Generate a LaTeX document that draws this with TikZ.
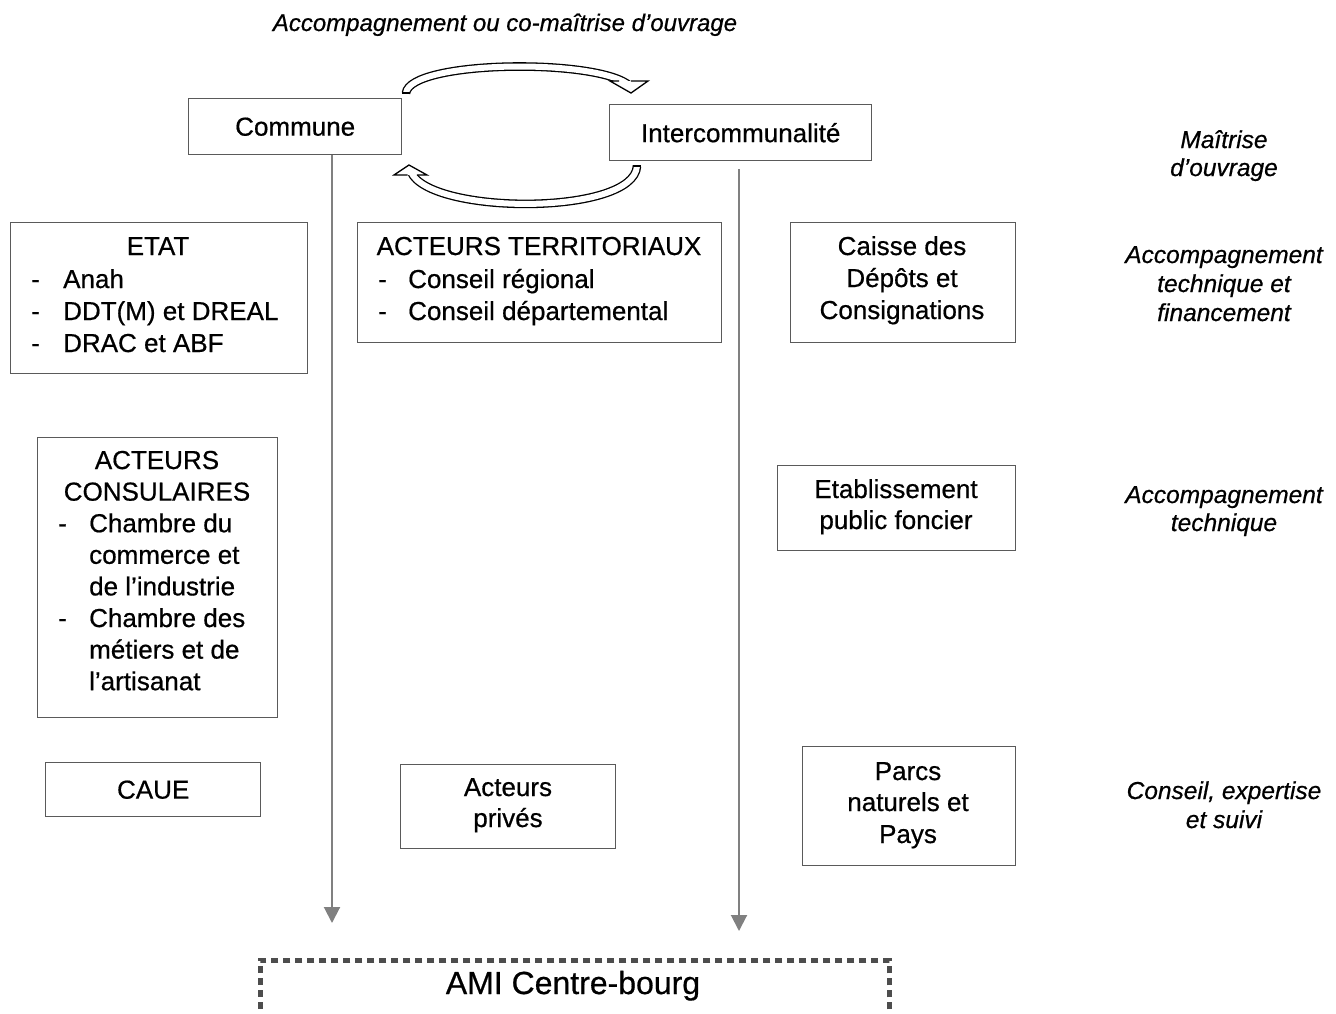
\documentclass[tikz,border=0pt]{standalone}
\usepackage{fontspec}
\setmainfont{Liberation Sans}[FakeBold=0.6]
\usetikzlibrary{arrows.meta}
\definecolor{boxc}{HTML}{5A5A5A}
\definecolor{arrc}{HTML}{808080}
\definecolor{amic}{HTML}{4D4D4D}
\newcommand\szn{\fontsize{26}{32}\selectfont}
\newcommand\szi{\fontsize{24.5}{29}\selectfont\itshape}
\newcommand\szt{\fontsize{24}{29}\selectfont\itshape}
\newcommand\sza{\fontsize{32}{38}\selectfont}
\begin{document}
\begin{tikzpicture}[x=1pt,y=-1pt,
  box/.style={draw=boxc, line width=1.4pt, fill=white, inner sep=0, anchor=north west, font=\szn},
  tx/.style={inner sep=0, anchor=base, font=\szn},
  tl/.style={inner sep=0, anchor=base west, font=\szn},
  ti/.style={inner sep=0, anchor=base, font=\szi},
  varrow/.style={draw=arrc, line width=2pt, -{Triangle[width=16pt,length=16pt]}},
  bshaft/.style={draw=black, line width=1.3pt, double=white, double distance=6pt},
  bline/.style={draw=black, line width=1.3pt, line join=miter},
  bfill/.style={fill=white}
]
\useasboundingbox (0,0) rectangle (1336,1013);
\clip (0,0) rectangle (1336,1013);

% top label
\node[ti, font=\szt] (toplab) at (505,31) {Accompagnement ou co-maîtrise d’ouvrage};

% block arrows
\draw[bshaft] (406,93) .. controls (410,60) and (600,58) .. (630,86);
\draw[bline] (401.6,93) -- (410.4,93);
\fill[bfill] (610,81) -- (631,93) -- (648,81) -- cycle;
\draw[bline] (619.1,81) -- (610,81) -- (631,93) -- (648,81) -- (630.9,81);

\draw[bshaft] (637,166) .. controls (634,216) and (430,215) .. (411,172);
\draw[bline] (632.6,166) -- (641.4,166);
\fill[bfill] (394,175) -- (409,165) -- (427,175) -- cycle;
\draw[bline] (407.7,175) -- (394,175) -- (409,165) -- (427,175) -- (416.9,175);

% top boxes
\node[box, minimum width=213, minimum height=56] (commune) at (188,98) {Commune};
\node[box, minimum width=262, minimum height=56] (inter) at (609,104) {Intercommunalité};

% ETAT
\node[box, minimum width=297, minimum height=151] (etat) at (10,222) {};
\node[tx] (etat-t) at (158,255) {ETAT};
\node[tl] (etat-d1) at (31,288) {-};
\node[tl] (etat-1) at (63,288) {Anah};
\node[tl] (etat-d2) at (31,320) {-};
\node[tl] (etat-2) at (63,320) {DDT(M) et DREAL};
\node[tl] (etat-d3) at (31,352) {-};
\node[tl] (etat-3) at (63,352) {DRAC et ABF};

% Acteurs territoriaux
\node[box, minimum width=364, minimum height=120] (terr) at (357,222) {};
\node[tx] (terr-t) at (539,255) {ACTEURS TERRITORIAUX};
\node[tl] (terr-d1) at (378,288) {-};
\node[tl] (terr-1) at (408,288) {Conseil régional};
\node[tl] (terr-d2) at (378,320) {-};
\node[tl] (terr-2) at (408,320) {Conseil départemental};

% Caisse des depots
\node[box, minimum width=225, minimum height=120] (cdc) at (790,222) {};
\node[tx] (cdc-1) at (902,255) {Caisse des};
\node[tx] (cdc-2) at (902,287) {Dépôts et};
\node[tx] (cdc-3) at (902,319) {Consignations};

% Acteurs consulaires
\node[box, minimum width=240, minimum height=280] (cons) at (37,437) {};
\node[tx] (cons-t1) at (157,469) {ACTEURS};
\node[tx] (cons-t2) at (157,500.6) {CONSULAIRES};
\node[tl] (cons-d1) at (58,532.2) {-};
\node[tl] (cons-1) at (89,532.2) {Chambre du};
\node[tl] (cons-2) at (89,563.8) {commerce et};
\node[tl] (cons-3) at (89,595.4) {de l’industrie};
\node[tl] (cons-d2) at (58,627) {-};
\node[tl] (cons-4) at (89,627) {Chambre des};
\node[tl] (cons-5) at (89,658.6) {métiers et de};
\node[tl] (cons-6) at (89,690.2) {l’artisanat};

% Etablissement public foncier
\node[box, minimum width=238, minimum height=85] (epf) at (777,465) {};
\node[tx] (epf-1) at (896,498) {Etablissement};
\node[tx] (epf-2) at (896,529) {public foncier};

% CAUE
\node[box, minimum width=215, minimum height=54] (caue) at (45,762) {CAUE};

% Acteurs prives
\node[box, minimum width=215, minimum height=84] (priv) at (400,764) {};
\node[tx] (priv-1) at (508,796) {Acteurs};
\node[tx] (priv-2) at (508,827) {privés};

% Parcs
\node[box, minimum width=213, minimum height=119] (parcs) at (802,746) {};
\node[tx] (parcs-1) at (908,780) {Parcs};
\node[tx] (parcs-2) at (908,811) {naturels et};
\node[tx] (parcs-3) at (908,843) {Pays};

% AMI
\node[draw=amic, line width=4.5pt, dash pattern=on 7pt off 5pt, inner sep=0,
      minimum width=629, minimum height=80, anchor=north west] (ami) at (258,958) {};
\node[inner sep=0, anchor=base, font=\sza] (ami-t) at (573,994) {AMI Centre-bourg};

% vertical arrows
\coordinate (lend) at (332,923);
\coordinate (rend) at (739,931);
\draw[varrow] (commune.south -| lend) -- (lend);
\path (inter.south -| rend) ++(0,8) coordinate (rstart);
\draw[varrow] (rstart) -- (rend);

% right labels
\node[ti] (r1a) at (1224,148) {Maîtrise};
\node[ti] (r1b) at (1224,176) {d’ouvrage};
\node[ti] (r2a) at (1224,263) {Accompagnement};
\node[ti] (r2b) at (1224,292) {technique et};
\node[ti] (r2c) at (1224,321) {financement};
\node[ti] (r3a) at (1224,503) {Accompagnement};
\node[ti] (r3b) at (1224,531) {technique};
\node[ti] (r4a) at (1224,799) {Conseil, expertise};
\node[ti] (r4b) at (1224,828) {et suivi};
\end{tikzpicture}
\end{document}
